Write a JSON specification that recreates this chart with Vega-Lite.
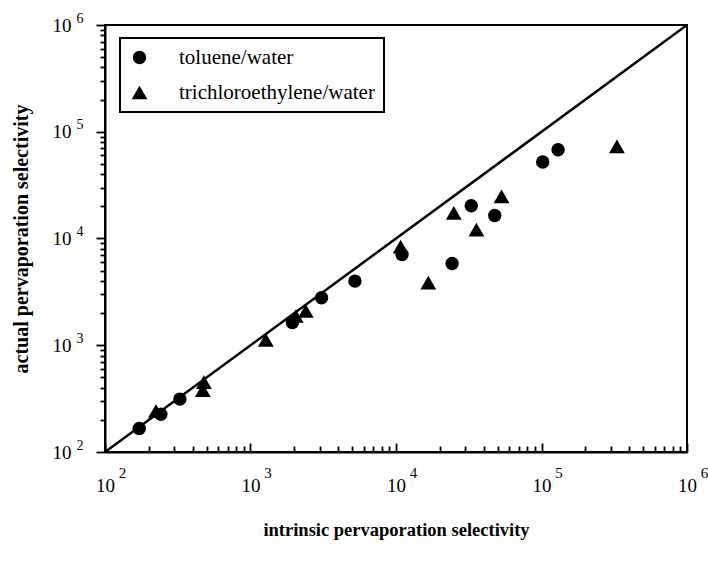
{
  "$schema": "https://vega.github.io/schema/vega-lite/v6.json",
  "width": 582,
  "height": 427,
  "autosize": {"type": "none"},
  "padding": {"left": 105, "top": 25, "right": 21, "bottom": 109},
  "background": "white",
  "config": {
    "font": "Liberation Serif",
    "view": {"stroke": "black", "strokeWidth": 2},
    "axis": {"labelColor": "black", "titleColor": "black", "tickColor": "black", "domainColor": "black", "domainWidth": 2, "tickWidth": 1.8, "grid": false, "labelFont": "Liberation Serif", "titleFont": "Liberation Serif"},
    "legend": {"labelFont": "Liberation Serif", "strokeColor": "black", "strokeWidth": 2}
  },
  "datasets": {
    "diag": [{"a": 100, "b": 100}, {"a": 1000000, "b": 1000000}],
    "points": [
      {"series": "toluene/water", "intrinsic": 172, "actual": 166},
      {"series": "toluene/water", "intrinsic": 242, "actual": 226},
      {"series": "toluene/water", "intrinsic": 327, "actual": 313},
      {"series": "toluene/water", "intrinsic": 1940, "actual": 1630},
      {"series": "toluene/water", "intrinsic": 3080, "actual": 2790},
      {"series": "toluene/water", "intrinsic": 5220, "actual": 3990},
      {"series": "toluene/water", "intrinsic": 11000, "actual": 7080},
      {"series": "toluene/water", "intrinsic": 24300, "actual": 5840},
      {"series": "toluene/water", "intrinsic": 32900, "actual": 20300},
      {"series": "toluene/water", "intrinsic": 47700, "actual": 16400},
      {"series": "toluene/water", "intrinsic": 101900, "actual": 52100},
      {"series": "toluene/water", "intrinsic": 130000, "actual": 67900},
      {"series": "trichloroethylene/water", "intrinsic": 224, "actual": 242},
      {"series": "trichloroethylene/water", "intrinsic": 478, "actual": 451},
      {"series": "trichloroethylene/water", "intrinsic": 470, "actual": 380},
      {"series": "trichloroethylene/water", "intrinsic": 1274, "actual": 1122},
      {"series": "trichloroethylene/water", "intrinsic": 2050, "actual": 1880},
      {"series": "trichloroethylene/water", "intrinsic": 2400, "actual": 2094},
      {"series": "trichloroethylene/water", "intrinsic": 10760, "actual": 8410},
      {"series": "trichloroethylene/water", "intrinsic": 16670, "actual": 3860},
      {"series": "trichloroethylene/water", "intrinsic": 24950, "actual": 17380},
      {"series": "trichloroethylene/water", "intrinsic": 35700, "actual": 12130},
      {"series": "trichloroethylene/water", "intrinsic": 53100, "actual": 24840},
      {"series": "trichloroethylene/water", "intrinsic": 330000, "actual": 72900}
    ]
  },
  "layer": [
    {
      "data": {"name": "diag"},
      "mark": {"type": "line", "color": "black", "strokeWidth": 2.5, "clip": true},
      "encoding": {
        "x": {
          "field": "a", "type": "quantitative",
          "scale": {"type": "log", "domain": [100, 1000000], "nice": false},
          "axis": {
            "orient": "bottom",
            "title": "intrinsic pervaporation selectivity",
            "titleFontSize": 18.5, "titleFontWeight": "bold", "titlePadding": 22,
            "values": [100,200,300,400,500,600,700,800,900,1000,2000,3000,4000,5000,6000,7000,8000,9000,10000,20000,30000,40000,50000,60000,70000,80000,90000,100000,200000,300000,400000,500000,600000,700000,800000,900000,1000000],
            "labelExpr": "abs(log(datum.value)/LN10 - round(log(datum.value)/LN10)) < 0.001 ? '10' : ''",
            "labelFontSize": 19, "labelPadding": 33, "labelFlush": false, "labelOverlap": false, "labelBound": false,
            "tickSize": {"condition": {"test": "abs(log(datum.value)/LN10 - round(log(datum.value)/LN10)) < 0.001", "value": -9}, "value": -6}
          }
        },
        "y": {
          "field": "b", "type": "quantitative",
          "scale": {"type": "log", "domain": [100, 1000000], "nice": false},
          "axis": {
            "orient": "left",
            "title": "actual pervaporation selectivity",
            "titleFontSize": 20, "titleFontWeight": "bold", "titlePadding": 21,
            "values": [100,200,300,400,500,600,700,800,900,1000,2000,3000,4000,5000,6000,7000,8000,9000,10000,20000,30000,40000,50000,60000,70000,80000,90000,100000,200000,300000,400000,500000,600000,700000,800000,900000,1000000],
            "labelExpr": "abs(log(datum.value)/LN10 - round(log(datum.value)/LN10)) < 0.001 ? '10' : ''",
            "labelFontSize": 19, "labelPadding": 25, "labelFlush": false, "labelOverlap": false, "labelBound": false,
            "tickSize": {"condition": {"test": "abs(log(datum.value)/LN10 - round(log(datum.value)/LN10)) < 0.001", "value": 9}, "value": 5}
          }
        }
      }
    },
    {
      "data": {"name": "points"},
      "mark": {"type": "point", "filled": true, "color": "black", "opacity": 1},
      "encoding": {
        "x": {
          "field": "intrinsic", "type": "quantitative",
          "scale": {"type": "log", "domain": [100, 1000000], "nice": false},
          "axis": {
            "orient": "bottom", "title": null, "ticks": false, "domain": false,
            "values": [100, 1000, 10000, 100000, 1000000],
            "labelExpr": "format(round(log(datum.value)/LN10), 'd')",
            "labelFontSize": 15, "labelPadding": 13, "labelOffset": 17,
            "labelFlush": false, "labelOverlap": false, "labelBound": false
          }
        },
        "y": {
          "field": "actual", "type": "quantitative",
          "scale": {"type": "log", "domain": [100, 1000000], "nice": false},
          "axis": {
            "orient": "left", "title": null, "ticks": false, "domain": false,
            "values": [100, 1000, 10000, 100000, 1000000],
            "labelExpr": "format(round(log(datum.value)/LN10), 'd')",
            "labelFontSize": 14, "labelPadding": 22, "labelOffset": -7,
            "labelFlush": false, "labelOverlap": false, "labelBound": false
          }
        },
        "shape": {
          "field": "series", "type": "nominal",
          "scale": {"domain": ["toluene/water", "trichloroethylene/water"], "range": ["circle", "triangle-up"]},
          "legend": {
            "title": null, "orient": "none", "legendX": 15, "legendY": 13,
            "padding": 9, "labelLimit": 400,
            "labelFontSize": 21, "labelColor": "black", "labelOffset": 29, "rowPadding": 13,
            "symbolFillColor": "black", "symbolStrokeColor": "black", "symbolStrokeWidth": 0,
            "fillColor": "white"
          }
        },
        "size": {
          "field": "series", "type": "nominal",
          "scale": {"domain": ["toluene/water", "trichloroethylene/water"], "range": [180, 250]},
          "legend": {
            "title": null, "orient": "none", "legendX": 15, "legendY": 13,
            "padding": 9, "labelLimit": 400,
            "labelFontSize": 21, "labelColor": "black", "labelOffset": 29, "rowPadding": 13,
            "symbolFillColor": "black", "symbolStrokeColor": "black", "symbolStrokeWidth": 0,
            "fillColor": "white"
          }
        }
      }
    }
  ],
  "resolve": {"axis": {"x": "independent", "y": "independent"}}
}
